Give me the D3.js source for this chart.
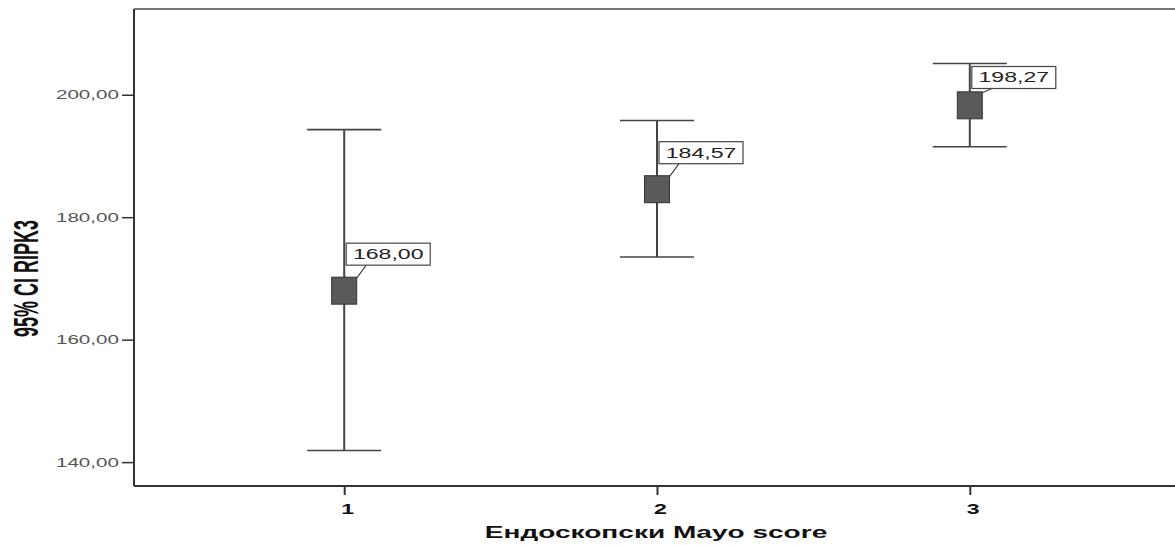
<!DOCTYPE html>
<html>
<head>
<meta charset="utf-8">
<script src="https://cdn.jsdelivr.net/npm/d3@7"></script>
<style>
  html, body { margin: 0; padding: 0; background: #fff; }
  svg { display: block; }
  text { font-family: Arial, "Liberation Sans", sans-serif; }
</style>
</head>
<body>
<div id="chart"></div>
<script>
// Mean RIPK3 with 95% confidence interval per endoscopic Mayo score
const categories = [1, 2, 3];
const means = [168.00, 184.57, 198.27];
const ciLower = [141.9, 173.5, 191.5];
const ciUpper = [194.3, 195.8, 205.1];
const yTicks = [140, 160, 180, 200];

const W = 1175, H = 545;
const plotLeft = 134, plotTop = 9, plotBottom = 486, plotRight = 1180;
const sx = 1.65; // horizontal stretch used for all text

const svg = d3.select("#chart").append("svg")
  .attr("width", W).attr("height", H);

const x = d3.scaleLinear().domain([1 - 0.672, 3 + 0.672]).range([plotLeft, plotRight]);
const y = d3.scaleLinear().domain([136.1, 214]).range([plotBottom, plotTop]);

const fmt = v => d3.format(".2f")(v).replace(".", ",");

// frame
svg.append("line").attr("x1", plotLeft).attr("x2", W).attr("y1", plotTop).attr("y2", plotTop)
  .attr("stroke", "#777").attr("stroke-width", 2);

// y axis
const gy = svg.append("g").attr("transform", `translate(${plotLeft},0)`)
  .call(d3.axisLeft(y).tickValues(yTicks).tickSize(12).tickFormat(() => ""));
gy.select(".domain").attr("stroke", "#333").attr("stroke-width", 2).attr("d", `M0,${plotTop}V${plotBottom}`);
gy.selectAll(".tick line").attr("stroke", "#333").attr("stroke-width", 1.5);
gy.selectAll(".tick").append("text")
  .attr("transform", `translate(-15,4) scale(${sx},1)`)
  .attr("text-anchor", "end")
  .attr("fill", "#555")
  .attr("font-size", 12.5)
  .text(d => fmt(d));

// x axis
const gx = svg.append("g").attr("transform", `translate(0,${plotBottom})`)
  .call(d3.axisBottom(x).tickValues(categories).tickSize(9).tickFormat(() => ""));
gx.select(".domain").attr("stroke", "#333").attr("stroke-width", 2).attr("d", `M${plotLeft},0H${W}`);
gx.selectAll(".tick line").attr("stroke", "#333").attr("stroke-width", 2);
gx.selectAll(".tick").append("text")
  .attr("transform", `translate(3,28) scale(${sx},1)`)
  .attr("text-anchor", "middle")
  .attr("fill", "#111")
  .attr("font-size", 14)
  .attr("font-weight", "bold")
  .attr("font-family", "'Liberation Serif', 'DejaVu Serif', serif")
  .text(d => d);

// axis titles
svg.append("text")
  .attr("transform", `translate(656,538) scale(${sx},1)`)
  .attr("text-anchor", "middle")
  .attr("font-size", 17)
  .attr("font-weight", "bold")
  .attr("fill", "#111")
  .text("Ендоскопски Mayo score");

svg.append("text")
  .attr("transform", `translate(38,${y(170)}) scale(1.9,1) rotate(-90)`)
  .attr("text-anchor", "middle")
  .attr("font-size", 18)
  .attr("font-weight", "bold")
  .attr("font-family", "'Liberation Sans Narrow', 'Liberation Sans', Arial, sans-serif")
  .attr("fill", "#111")
  .text("95% CI RIPK3");

// error bars
const rows = categories.map((c, i) => ({ c, m: means[i], lo: ciLower[i], hi: ciUpper[i] }));
const cap = 37, rw = 25, rh = 27;
const g = svg.append("g");

rows.forEach(d => {
  const cx = x(d.c);
  g.append("line").attr("x1", cx).attr("x2", cx).attr("y1", y(d.hi)).attr("y2", y(d.lo))
    .attr("stroke", "#444").attr("stroke-width", 2);
  [d.hi, d.lo].forEach(v => {
    g.append("line").attr("x1", cx - cap).attr("x2", cx + cap).attr("y1", y(v)).attr("y2", y(v))
      .attr("stroke", "#444").attr("stroke-width", 1.6);
  });
  const rTop = y(d.m) - rh / 2;
  g.append("rect").attr("x", cx - rw / 2).attr("y", rTop).attr("width", rw).attr("height", rh)
    .attr("fill", "#5a5a5a").attr("stroke", "#333").attr("stroke-width", 1);

  // value label box with leader
  const bw = 84, bh = 22;
  const bx = cx + 2;
  const by = Math.max(rTop - 34, y(d.hi) + 3);
  g.append("line").attr("x1", bx + 20).attr("y1", by + bh).attr("x2", cx + rw / 2).attr("y2", rTop + 1)
    .attr("stroke", "#444").attr("stroke-width", 1.2);
  g.append("rect").attr("x", bx).attr("y", by).attr("width", bw).attr("height", bh)
    .attr("fill", "#fff").attr("stroke", "#444").attr("stroke-width", 1.2);
  g.append("text")
    .attr("transform", `translate(${bx + bw / 2},${by + bh / 2 + 5}) scale(${sx},1)`)
    .attr("text-anchor", "middle")
    .attr("font-size", 14)
    .attr("fill", "#222")
    .text(fmt(d.m));
});
</script>
</body>
</html>
